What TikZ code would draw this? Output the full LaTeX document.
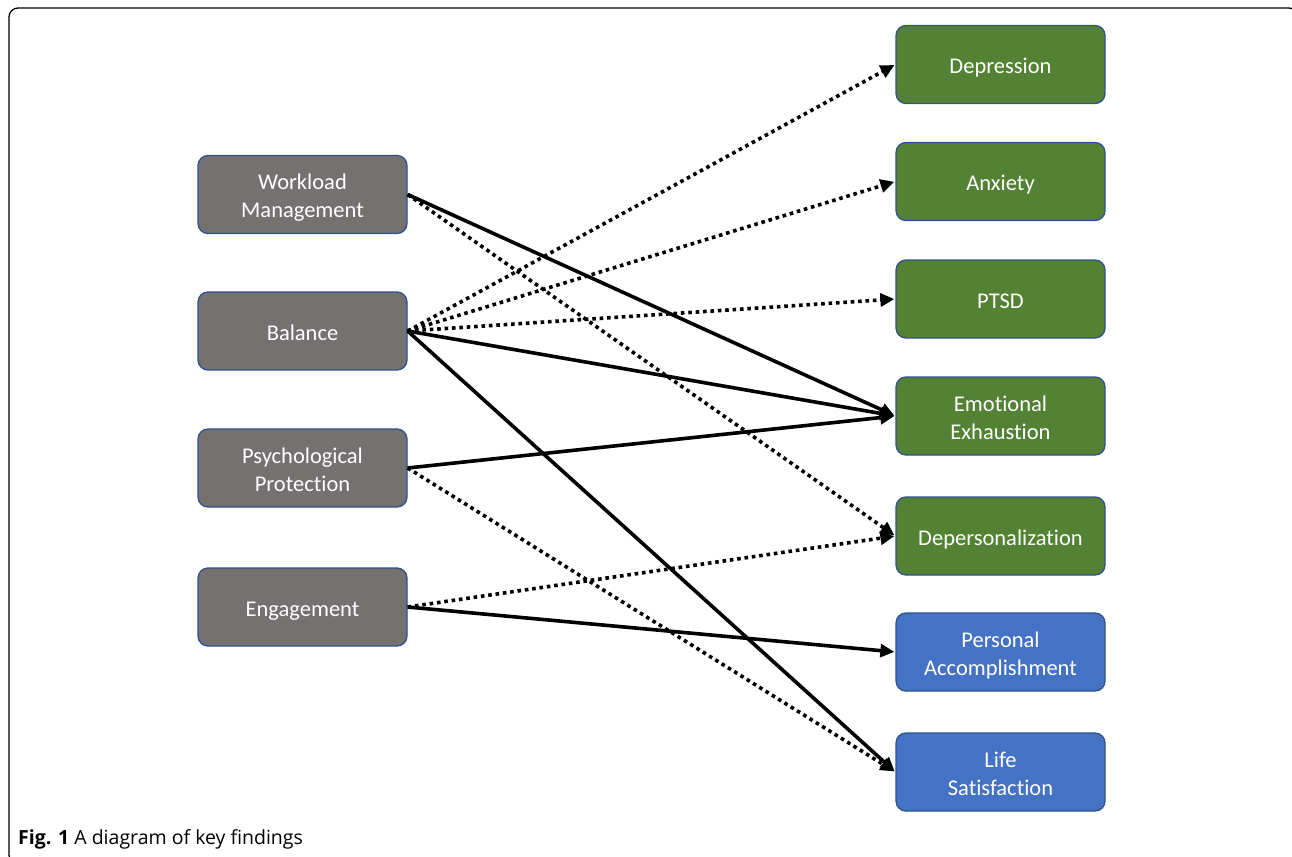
\documentclass[tikz,border=0pt]{standalone}
\usepackage{fontspec}
\setmainfont[Ligatures={NoCommon}]{Carlito}
\newfontfamily\capfont{Open Sans}
\usetikzlibrary{arrows.meta}
\definecolor{grayfill}{HTML}{767171}
\definecolor{greenfill}{HTML}{548235}
\definecolor{bluefill}{HTML}{4472C4}
\definecolor{boxborder}{HTML}{2F528F}
\newcommand{\boxtext}[1]{\raisebox{-3.5pt}[\height][\depth]{\begin{tabular}{@{}c@{}}#1\end{tabular}}}
\tikzset{
  box/.style={draw=boxborder, line width=1.3pt, rounded corners=10pt, minimum width=209pt, minimum height=78pt, text=white, font=\fontsize{22.5}{28}\selectfont, inner sep=0pt},
  src/.style={box, fill=grayfill},
  grn/.style={box, fill=greenfill},
  blu/.style={box, fill=bluefill},
  conn/.style={line width=3.6pt, -{Triangle[length=14pt,width=13pt]}, shorten >=1pt},
  solidc/.style={conn},
  dotc/.style={conn, dash pattern=on 3.6pt off 3.8pt},
}
\begin{document}
\begin{tikzpicture}[x=1pt,y=-1pt]
\useasboundingbox (0,0) rectangle (1292,856);
\begin{scope}
\clip (0,0) rectangle (1292,856);
\draw[line width=1.3pt, rounded corners=9pt] (9,8) rectangle (1298,864);
\end{scope}
% left nodes
\node[src] (wm) at (302.5,194.5) {\boxtext{Workload\\Management}};
\node[src] (ba) at (302.5,331) {\boxtext{Balance}};
\node[src] (pp) at (302.5,468) {\boxtext{Psychological\\Protection}};
\node[src] (en) at (302.5,607) {\boxtext{Engagement}};
% right nodes
\node[grn] (de) at (1000.5,64.5) {\boxtext{Depression}};
\node[grn] (an) at (1000.5,181.5) {\boxtext{Anxiety}};
\node[grn] (pt) at (1000.5,299) {\boxtext{PTSD}};
\node[grn] (ee) at (1000.5,416) {\boxtext{Emotional\\Exhaustion}};
\node[grn] (dp) at (1000.5,536) {\boxtext{Depersonalization}};
\node[blu] (pa) at (1000.5,652) {\boxtext{Personal\\Accomplishment}};
\node[blu] (ls) at (1000.5,772) {\boxtext{Life\\Satisfaction}};
% connectors
\draw[solidc] (wm.east) -- (ee.west);
\draw[dotc] (wm.east) -- (dp.west);
\draw[dotc] (ba.east) -- (de.west);
\draw[dotc] (ba.east) -- (an.west);
\draw[dotc] (ba.east) -- (pt.west);
\draw[solidc] (ba.east) -- (ee.west);
\draw[solidc] (ba.east) -- (ls.west);
\draw[solidc] (pp.east) -- (ee.west);
\draw[dotc] (pp.east) -- (ls.west);
\draw[dotc] (en.east) -- (dp.west);
\draw[solidc] (en.east) -- (pa.west);
% caption
\node[anchor=base west, inner sep=0pt, font=\capfont\fontsize{19.5}{22}\selectfont] (cap) at (18,844) {\textbf{Fig. 1} A diagram of key findings};
\end{tikzpicture}
\end{document}
